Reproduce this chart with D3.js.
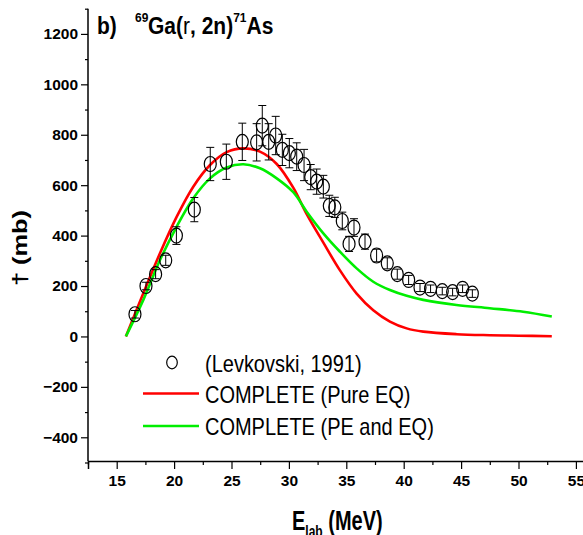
<!DOCTYPE html>
<html><head><meta charset="utf-8">
<script src="https://cdn.jsdelivr.net/npm/d3@7"></script>
<style>
html,body{margin:0;padding:0;background:#fff;}
svg{display:block;font-family:"Liberation Sans",Arial,sans-serif;}
</style></head>
<body>
<svg id="chart" width="583" height="535"></svg>
<script>
// ---- data ----
const expE   = [16.59,17.55,18.39,19.27,20.2,21.76,23.15,24.55,25.94,27.19,27.68,28.24,28.85,29.43,30.04,30.68,31.32,31.9,32.42,33.0,33.52,34.0,34.65,35.24,35.67,36.63,37.64,38.57,39.44,40.43,41.42,42.34,43.36,44.26,45.13,45.98];
const expSig = [88,200,247,302,400,503,684,693,772,770,836,772,797,740,727,713,680,632,614,594,518,512,458,367,432,376,321,290,247,224,194,189,180,176,189,170];
const expErr = [15,15,18,20,35,48,66,70,74,74,80,72,76,62,58,55,62,50,50,45,42,40,35,30,35,30,25,22,20,18,16,15,15,15,15,15];

const pureE   = [15.8,17.32,18.77,20.23,21.67,23.13,24.58,26.03,27.48,28.94,30.38,31.55,33.0,34.45,35.9,37.35,38.8,40.26,41.7,44.6,47.5,50.0,52.9];
const pureSig = [0,171,330,475,594,680,731,746,733,684,590,485,372,262,170,104,59,32,19,9,5,3,1];

const peE   = [15.8,17.32,18.77,20.23,21.67,23.13,24.58,26.03,27.48,28.94,30.38,31.55,33.0,34.45,35.9,37.35,38.8,40.26,41.7,44.6,47.5,50.4,52.9];
const peSig = [0,145,303,436,548,627,670,683,667,627,572,495,409,336,270,217,184,161,145,125,112,98,79];

const xMajor = [15,20,25,30,35,40,45,50,55];
const xMinor = [12.5,17.5,22.5,27.5,32.5,37.5,42.5,47.5,52.5,57.5];
const yMajor = [-400,-200,0,200,400,600,800,1000,1200];
const yMinor = [-500,-300,-100,100,300,500,700,900,1100,1300];

const legendLabels = ["(Levkovski, 1991)","COMPLETE (Pure EQ)","COMPLETE (PE and EQ)"];
const RED = "#ff0000", GREEN = "#00ee00";

// ---- scales ----
const svg = d3.select("#chart");
const x = d3.scaleLinear().domain([12.5,57.5]).range([88,604.6]);
const y = d3.scaleLinear().domain([-500,1300]).range([462.5,8.7]);
const axisY = 461;

// ---- axes ----
const gx = svg.append("g").attr("transform",`translate(0,${axisY})`);
gx.call(d3.axisBottom(x).tickValues(xMajor).tickSize(8).tickPadding(6).tickFormat(d3.format("d")));
const gxm = svg.append("g").attr("transform",`translate(0,${axisY})`);
gxm.call(d3.axisBottom(x).tickValues(xMinor).tickSize(4).tickFormat(""));
gxm.select(".domain").remove();

const gy = svg.append("g").attr("transform",`translate(${x(12.5)},0)`);
gy.call(d3.axisLeft(y).tickValues(yMajor).tickSize(7).tickPadding(3).tickFormat(d3.format("d")));
const gym = svg.append("g").attr("transform",`translate(${x(12.5)},0)`);
gym.call(d3.axisLeft(y).tickValues(yMinor).tickSize(3).tickFormat(""));
gym.select(".domain").remove();
gy.select(".domain").attr("d",`M-0,${y(1300)}V${axisY}`);

svg.selectAll(".domain").attr("stroke","#000").attr("stroke-width",1.5);
svg.selectAll(".tick line").attr("stroke","#000").attr("stroke-width",1.2);
svg.selectAll(".tick text").attr("font-family","'Liberation Sans',Arial,sans-serif")
  .attr("font-weight","bold").attr("font-size",15.5).attr("fill","#000");

// ---- curves ----
const line = d3.line().x(d=>x(d[0])).y(d=>y(d[1])).curve(d3.curveCatmullRom.alpha(0.5));
svg.append("path").datum(pureE.map((e,i)=>[e,pureSig[i]]))
  .attr("d",line).attr("fill","none").attr("stroke",RED).attr("stroke-width",2.6);
svg.append("path").datum(peE.map((e,i)=>[e,peSig[i]]))
  .attr("d",line).attr("fill","none").attr("stroke",GREEN).attr("stroke-width",2.6);

// ---- data points ----
const pts = expE.map((e,i)=>({e, s:expSig[i], err:expErr[i]}));
const gp = svg.append("g").attr("stroke","#000").attr("fill","none");
pts.forEach(p=>{
  const cx = x(p.e), yt = y(p.s+p.err), yb = y(p.s-p.err);
  gp.append("line").attr("x1",cx).attr("x2",cx).attr("y1",yt).attr("y2",yb).attr("stroke-width",1);
  gp.append("line").attr("x1",cx-4).attr("x2",cx+4).attr("y1",yt).attr("y2",yt).attr("stroke-width",1);
  gp.append("line").attr("x1",cx-4).attr("x2",cx+4).attr("y1",yb).attr("y2",yb).attr("stroke-width",1);
  gp.append("ellipse").attr("cx",cx).attr("cy",y(p.s)).attr("rx",6).attr("ry",7.5).attr("stroke-width",1.2);
});

// ---- legend ----
const lg = svg.append("g");
lg.append("ellipse").attr("cx",172).attr("cy",362.5).attr("rx",5.3).attr("ry",6.3)
  .attr("fill","none").attr("stroke","#000").attr("stroke-width",1.2);
lg.append("line").attr("x1",143).attr("x2",199).attr("y1",393.5).attr("y2",393.5).attr("stroke",RED).attr("stroke-width",2.6);
lg.append("line").attr("x1",143).attr("x2",199).attr("y1",426).attr("y2",426).attr("stroke",GREEN).attr("stroke-width",2.6);
[371.5,403.3,434.6].forEach((b,i)=>{
  lg.append("text").attr("transform",`translate(205,${b}) scale(1,1.17)`)
    .attr("font-size",20).attr("fill","#000").text(legendLabels[i]);
});

// ---- title ----
const t = svg.append("text").attr("transform","translate(0,34) scale(1,1.12)")
  .attr("font-weight","bold").attr("font-size",21).attr("fill","#000");
t.append("tspan").attr("x",97).attr("y",0).text("b)");
t.append("tspan").attr("x",135).attr("y",-11).attr("font-size",12).text("69");
t.append("tspan").attr("x",148).attr("y",0).text("Ga(");
t.append("tspan").attr("font-weight","normal").text("r");
t.append("tspan").text(", 2n)");
t.append("tspan").attr("dy",-11).attr("font-size",12).text("71");
t.append("tspan").attr("dy",11).text("As");

// ---- axis titles ----
const xl = svg.append("text").attr("transform","translate(292,530) scale(1,1.35)")
  .attr("font-weight","bold").attr("font-size",20).attr("fill","#000");
xl.append("tspan").attr("x",0).text("E");
xl.append("tspan").attr("dy",5).attr("font-size",12).text("lab");
xl.append("tspan").attr("dy",-5).text(" (MeV)");

svg.append("text").attr("transform","translate(27,248) rotate(-90) scale(1.3,1)").attr("text-anchor","middle")
  .attr("font-weight","bold").attr("font-size",19.5).attr("fill","#000").text("† (mb)");
</script>
</body></html>
